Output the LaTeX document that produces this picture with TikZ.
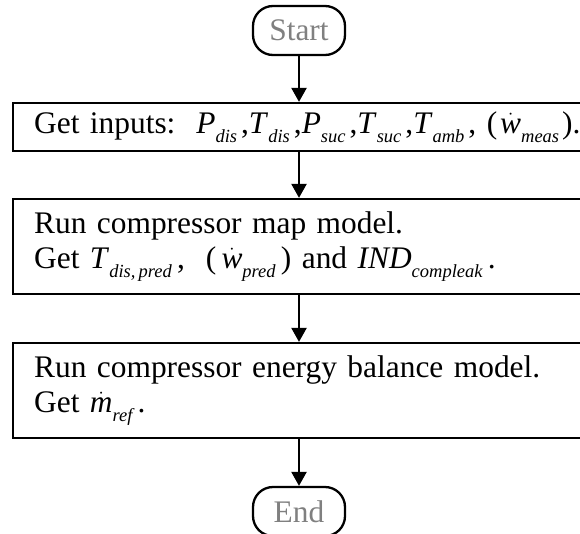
\documentclass[tikz,border=0pt]{standalone}
\usepackage{amsmath}
\usepackage{fontspec}
\setmainfont{Liberation Serif}
\usetikzlibrary{arrows.meta,positioning}

\newcommand{\symb}[2]{\textit{#1}\raisebox{-0.27em}{\fontsize{18.5}{18.5}\selectfont\itshape #2}}
\newcommand{\dsymb}[2]{$\dot{\textit{#1}}$\raisebox{-0.27em}{\fontsize{18.5}{18.5}\selectfont\itshape #2}}

\begin{document}
\begin{tikzpicture}[x=1pt,y=-1pt,line width=2.3pt,
  font=\fontsize{31.4}{35}\selectfont,
  term/.style={draw, rounded corners=20pt, minimum width=92pt, minimum height=49pt, text=gray, inner sep=0pt},
  proc/.style={draw, anchor=west, text width=620pt, inner xsep=21pt, inner ysep=0pt, align=left},
  flow/.style={-{Triangle[length=14pt,width=15pt]}, line width=2.4pt}]
\useasboundingbox (0,0) rectangle (580,533);
\clip (0,0) rectangle (580,533);
% terminators
\node[term] (start) at (299,30.5) {Start};
\node[term] (end) at (299,511.5) {End};
% process boxes
\node[proc, minimum height=48pt] (inputs) at (12,127) {Get inputs:\ \ \symb{P}{dis}\kern4pt,\symb{T}{dis}\kern4pt,\symb{P}{suc}\kern4pt,\symb{T}{suc}\kern4pt,\symb{T}{amb}\kern4pt, (\kern3pt\dsymb{w}{meas}\kern3pt).};
\node[proc, minimum height=95pt] (mapmodel) at (12,246.5) {Run compressor map model.\\Get \symb{T}{dis,\,pred}\,,\ \ (\,\dsymb{w}{pred}\,) and \symb{IND}{compleak}\,.};
\node[proc, minimum height=95pt] (energy) at (12,390.5) {Run compressor energy balance model.\\Get \dsymb{m}{ref}\,.};
% arrows
\draw[flow] (start) -- (start |- inputs.north);
\draw[flow] (start |- inputs.south) -- (start |- mapmodel.north);
\draw[flow] (start |- mapmodel.south) -- (start |- energy.north);
\draw[flow] (start |- energy.south) -- (end);
\end{tikzpicture}
\end{document}
